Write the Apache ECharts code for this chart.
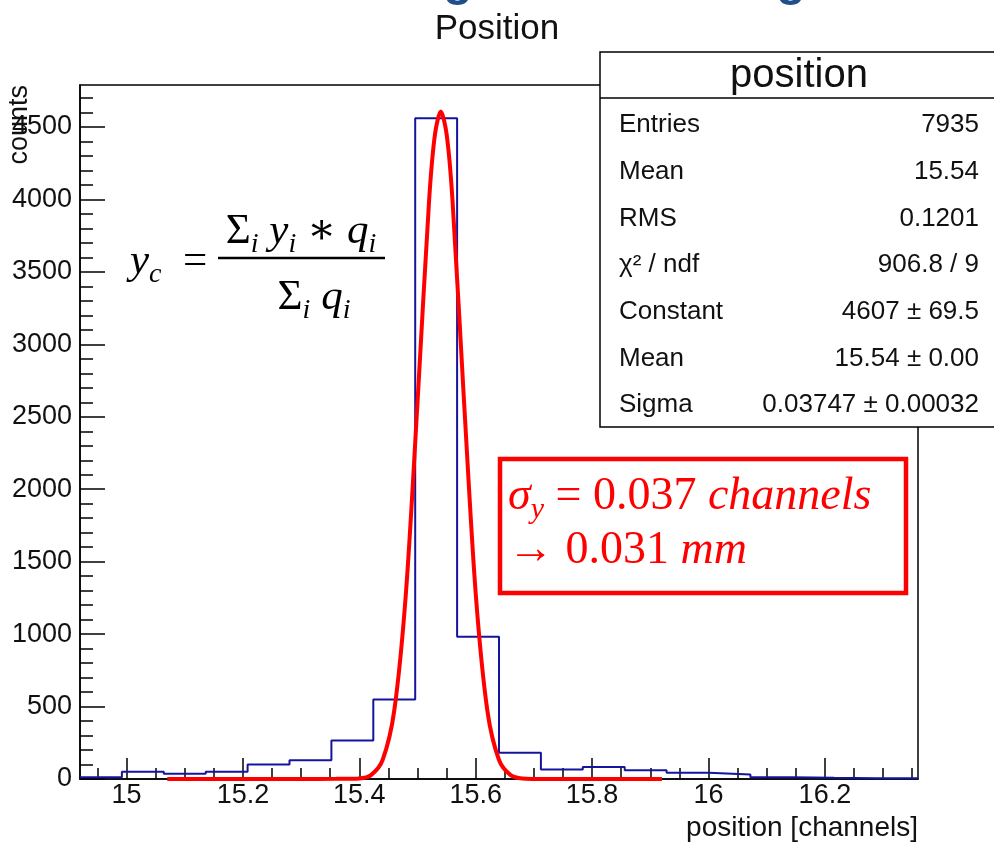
<!DOCTYPE html>
<html>
<head>
<meta charset="utf-8">
<title>Position</title>
<script src="https://cdn.jsdelivr.net/npm/echarts@6/dist/echarts.min.js"></script>
<style>
  html, body { margin: 0; padding: 0; background: #fff; }
  #main { width: 994px; height: 843px; }
</style>
</head>
<body>
<div id="main"></div>
<script>
// histogram: 20 bins between xMin and xMax
var xMin = 14.92;
var xMax = 16.36;
var binWidth = 0.072;
var counts = [12, 50, 36, 50, 100, 130, 265, 549, 4560, 981, 181, 66, 82, 61, 43, 31, 12, 8, 6, 5];

// gaussian fit curve
var fitX = [15.07, 15.30, 15.36, 15.40, 15.42, 15.44, 15.46, 15.48, 15.50, 15.52, 15.53, 15.54,
            15.55, 15.56, 15.58, 15.60, 15.62, 15.64, 15.66, 15.68, 15.72, 15.92];
var fitY = [0, 0, 1, 4, 27, 131, 472, 1280, 2600, 4000, 4450, 4607,
            4450, 4000, 2600, 1280, 472, 131, 27, 4, 0, 0];

var xMajorTicks = [15, 15.2, 15.4, 15.6, 15.8, 16, 16.2];
var xMinorTicks = [14.95, 15.05, 15.1, 15.15, 15.25, 15.3, 15.35, 15.45, 15.5, 15.55, 15.65, 15.7,
                   15.75, 15.85, 15.9, 15.95, 16.05, 16.1, 16.15, 16.25, 16.3, 16.35];
var yMax = 4790;
var yMajorTicks = [0, 500, 1000, 1500, 2000, 2500, 3000, 3500, 4000, 4500];
var yMinorTicks = [100, 200, 300, 400, 600, 700, 800, 900, 1100, 1200, 1300, 1400, 1600, 1700, 1800, 1900,
                   2100, 2200, 2300, 2400, 2600, 2700, 2800, 2900, 3100, 3200, 3300, 3400, 3600, 3700,
                   3800, 3900, 4100, 4200, 4300, 4400, 4600, 4700];

var statsLabels = ['Entries', 'Mean', 'RMS', 'χ² / ndf', 'Constant', 'Mean', 'Sigma'];
var statsValues = ['7935', '15.54', '0.1201', '906.8 / 9', '4607 ± 69.5', '15.54 ± 0.00', '0.03747 ± 0.00032'];

var sans = 'Liberation Sans, Arial, Helvetica, sans-serif';
var serif = 'Liberation Serif, DejaVu Serif, serif';

// step outline of the histogram
var histData = counts.map(function (c, i) {
  return [+(xMin + i * binWidth).toFixed(3), c];
});
histData.push([xMax, counts[counts.length - 1]]);

var fitData = fitX.map(function (x, i) { return [x, fitY[i]]; });

var myChart = echarts.init(document.getElementById('main'));

var axisBlack = { color: '#000', width: 1.5 };

function mathStyles(color, big, small) {
  return {
    m: { fontFamily: serif, fontStyle: 'italic', fontSize: big, lineHeight: big + 10, fill: color },
    u: { fontFamily: serif, fontSize: big, lineHeight: big + 10, fill: color },
    s: { fontFamily: serif, fontStyle: 'italic', fontSize: small, lineHeight: small, height: small,
         verticalAlign: 'bottom', fill: color }
  };
}
var mathRich = mathStyles('#000', 43, 28);
var redRich = mathStyles('#ff0000', 46, 30);

var statsGraphics = [
  { type: 'rect', z: 100, shape: { x: 600, y: 52, width: 420, height: 375 },
    style: { fill: '#fff', stroke: '#000', lineWidth: 1.5 } },
  { type: 'line', z: 101, shape: { x1: 600, y1: 98, x2: 994, y2: 98 },
    style: { stroke: '#000', lineWidth: 1.5 } },
  { type: 'text', z: 101, x: 799, y: 76,
    style: { text: 'position', font: '40px ' + sans, fill: '#111', align: 'center', verticalAlign: 'middle' } }
];
statsLabels.forEach(function (lab, i) {
  statsGraphics.push({ type: 'text', z: 101, x: 619, y: 125 + i * 46.7,
    style: { text: lab, font: '26px ' + sans, fill: '#111', align: 'left', verticalAlign: 'middle' } });
  statsGraphics.push({ type: 'text', z: 101, x: 979, y: 125 + i * 46.7,
    style: { text: statsValues[i], font: '26px ' + sans, fill: '#111', align: 'right', verticalAlign: 'middle' } });
});

myChart.setOption({
  animation: false,
  backgroundColor: '#fff',
  title: {
    text: 'Position',
    left: 'center',
    top: 7,
    textStyle: { fontFamily: sans, fontSize: 35, fontWeight: 'normal', color: '#111' }
  },
  grid: {
    left: 80, right: 76, top: 85, bottom: 64,
    show: true, borderColor: '#000', borderWidth: 1.5, backgroundColor: 'transparent'
  },
  xAxis: [
    {
      type: 'value', min: xMin, max: xMax, position: 'bottom',
      axisLine: { show: true, onZero: false, lineStyle: axisBlack },
      axisTick: { show: true, inside: true, length: 21, customValues: xMajorTicks, lineStyle: axisBlack },
      axisLabel: { customValues: xMajorTicks, fontFamily: sans, fontSize: 27, color: '#111', margin: 3,
                   formatter: function (v) { return String(v); } },
      splitLine: { show: false }
    },
    {
      type: 'value', min: xMin, max: xMax, position: 'bottom',
      axisLine: { show: false, onZero: false },
      axisTick: { show: true, inside: true, length: 11, customValues: xMinorTicks, lineStyle: axisBlack },
      axisLabel: { show: false },
      splitLine: { show: false }
    }
  ],
  yAxis: [
    {
      type: 'value', min: 0, max: yMax, position: 'left',
      axisLine: { show: true, onZero: false, lineStyle: axisBlack },
      axisTick: { show: true, inside: true, length: 25, customValues: yMajorTicks, lineStyle: axisBlack },
      axisLabel: { customValues: yMajorTicks, fontFamily: sans, fontSize: 27, color: '#111', margin: 8,
                   formatter: function (v) { return String(v); } },
      splitLine: { show: false }
    },
    {
      type: 'value', min: 0, max: yMax, position: 'left',
      axisLine: { show: false, onZero: false },
      axisTick: { show: true, inside: true, length: 13, customValues: yMinorTicks, lineStyle: axisBlack },
      axisLabel: { show: false },
      splitLine: { show: false }
    }
  ],
  series: [
    {
      name: 'position',
      type: 'line',
      xAxisIndex: 0, yAxisIndex: 0,
      step: 'end',
      symbol: 'none',
      lineStyle: { color: '#14149c', width: 2 },
      data: histData,
      z: 3
    },
    {
      name: 'gaus',
      type: 'line',
      xAxisIndex: 0, yAxisIndex: 0,
      smooth: 0.3,
      symbol: 'none',
      lineStyle: { color: '#ff0000', width: 4 },
      data: fitData,
      z: 4
    }
  ],
  graphic: [
    // bits of the slide title cut by the top edge
    { type: 'text', x: 458, y: 6, style: { text: 'g', font: 'bold 48px ' + sans, fill: '#1f4e8c', align: 'center', verticalAlign: 'bottom' } },
    { type: 'text', x: 791, y: 6, style: { text: 'g', font: 'bold 48px ' + sans, fill: '#1f4e8c', align: 'center', verticalAlign: 'bottom' } },
    // axis titles
    { type: 'text', x: 20, y: 85, rotation: Math.PI / 2,
      style: { text: 'counts', font: '27px ' + sans, fill: '#111', align: 'right', verticalAlign: 'middle' } },
    { type: 'text', x: 918, y: 828,
      style: { text: 'position [channels]', font: '28px ' + sans, fill: '#111', align: 'right', verticalAlign: 'middle' } },
    // centroid formula
    { type: 'text', x: 130, y: 262,
      style: { text: '{m|y}{s|c}{u|  =}', rich: mathRich, align: 'left', verticalAlign: 'middle' } },
    { type: 'text', x: 301, y: 232,
      style: { text: '{u|Σ}{s|i}{m| y}{s|i}{u| ∗ }{m|q}{s|i}', rich: mathRich, align: 'center', verticalAlign: 'middle' } },
    { type: 'line', shape: { x1: 218, y1: 258, x2: 385, y2: 258 }, style: { stroke: '#000', lineWidth: 2.5 } },
    { type: 'text', x: 314, y: 298,
      style: { text: '{u|Σ}{s|i}{m| q}{s|i}', rich: mathRich, align: 'center', verticalAlign: 'middle' } },
    // red annotation box
    { type: 'rect', z: 100, shape: { x: 500, y: 459, width: 406, height: 134 },
      style: { fill: '#fff', stroke: '#ff0000', lineWidth: 4.5 } },
    { type: 'text', z: 101, x: 508, y: 497,
      style: { text: '{m|σ}{s|y}{u| = 0.037 }{m|channels}', rich: redRich, align: 'left', verticalAlign: 'middle' } },
    { type: 'text', z: 101, x: 508, y: 551,
      style: { text: '{u|→ 0.031 }{m|mm}', rich: redRich, align: 'left', verticalAlign: 'middle' } }
  ].concat(statsGraphics)
});
</script>
</body>
</html>
